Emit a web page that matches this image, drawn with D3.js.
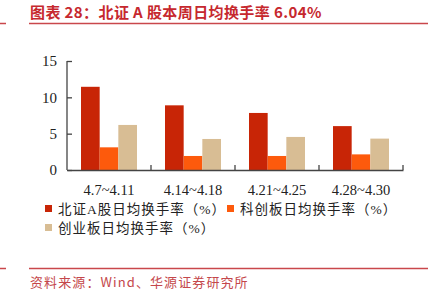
<!DOCTYPE html>
<html><head><meta charset="utf-8">
<script src="https://cdn.jsdelivr.net/npm/d3@7"></script>
<style>body{margin:0;background:#fff}svg{display:block}</style>
</head><body>
<script>
const categories = ["4.7~4.11","4.14~4.18","4.21~4.25","4.28~4.30"];
const seriesNames = ["北证A股日均换手率（%）","科创板日均换手率（%）","创业板日均换手率（%）"];
const bseValues = [11.45, 8.9, 7.85, 6.04];
const starValues = [3.12, 1.93, 1.93, 2.15];
const chinextValues = [6.2, 4.27, 4.55, 4.32];
const yTicks = [0, 5, 10, 15];
const colors = ["#c82506", "#fd5a0c", "#d8bd94"];

const W = 433, H = 303;
const svg = d3.select("body").append("svg").attr("width", W).attr("height", H);
const serifCJK = "'Liberation Serif','Noto Sans CJK SC',serif";

// title
svg.append("text").attr("x", 30).attr("y", 18).attr("fill", "#c6282e")
  .attr("font-family", "'Noto Sans CJK SC',sans-serif").attr("font-size", 15).attr("font-weight", "bold")
  .attr("letter-spacing", 0.4).text("图表 28：北证 A 股本周日均换手率 6.04%");
[[0,6],[29,428]].forEach(([a,b]) => svg.append("line").attr("x1",a).attr("x2",b).attr("y1",23.5).attr("y2",23.5).attr("stroke","#c9474b").attr("stroke-width",1.5));
[[0,6],[29,428]].forEach(([a,b]) => svg.append("line").attr("x1",a).attr("x2",b).attr("y1",268.5).attr("y2",268.5).attr("stroke","#c9474b").attr("stroke-width",1.5));
svg.append("text").attr("x", 30).attr("y", 287).attr("fill", "#c4474b")
  .attr("font-family", "'Noto Sans CJK SC',sans-serif").attr("font-size", 13).attr("letter-spacing", 1.1)
  .text("资料来源：Wind、华源证券研究所");

const x0 = 67, x1 = 403, yTop = 61, yBase = 170;
const x = d3.scaleBand().domain(categories).range([x0, x1]).paddingInner(0).paddingOuter(0);
const y = d3.scaleLinear().domain([0, 15]).range([yBase, yTop]);
const inner = d3.scaleBand().domain([0,1,2]).range([14, x.bandwidth() - 14]);

const data = [bseValues, starValues, chinextValues];
data.forEach((vals, si) => {
  svg.append("g").selectAll("rect").data(vals).join("rect")
    .attr("x", (d, i) => x(categories[i]) + inner(si))
    .attr("width", inner.bandwidth())
    .attr("y", d => y(d))
    .attr("height", d => yBase - y(d))
    .attr("fill", colors[si]);
});

// y axis
const yAxis = svg.append("g").attr("transform", `translate(${x0},0)`)
  .call(d3.axisLeft(y).tickValues(yTicks).tickSize(-5).tickPadding(10));
yAxis.select(".domain").attr("stroke", "#444").attr("stroke-width", 1.3).attr("d", `M-0,${yTop}H0V${yBase}`);
yAxis.selectAll(".tick line").attr("stroke", "#444").attr("stroke-width", 1.3);
yAxis.selectAll("text").attr("font-family", serifCJK).attr("font-size", 15).attr("fill", "#222");

// x axis
const xAxis = svg.append("g").attr("transform", `translate(0,${yBase})`)
  .call(d3.axisBottom(x).tickSize(0).tickPadding(15));
xAxis.select(".domain").attr("stroke", "#444").attr("stroke-width", 1.3);
xAxis.selectAll("text").attr("font-family", serifCJK).attr("font-size", 14.5).attr("fill", "#222");
const bounds = categories.slice(1).map(c => x(c)).concat([x1]);
svg.append("g").selectAll("line").data(bounds).join("line")
  .attr("x1", d => d).attr("x2", d => d).attr("y1", yBase).attr("y2", yBase - 5)
  .attr("stroke", "#444").attr("stroke-width", 1.3);

// legend
const legendPos = [[45, 209], [227, 209], [45, 228]];
seriesNames.forEach((name, i) => {
  const [lx, ly] = legendPos[i];
  svg.append("rect").attr("x", lx).attr("y", ly - 4).attr("width", 7).attr("height", 7).attr("fill", colors[i]);
  svg.append("text").attr("x", lx + 13).attr("y", ly + 4.5).attr("font-family", serifCJK)
    .attr("font-size", 13.5).attr("fill", "#222").attr("letter-spacing", 1.0).text(name);
});
</script>
</body></html>
